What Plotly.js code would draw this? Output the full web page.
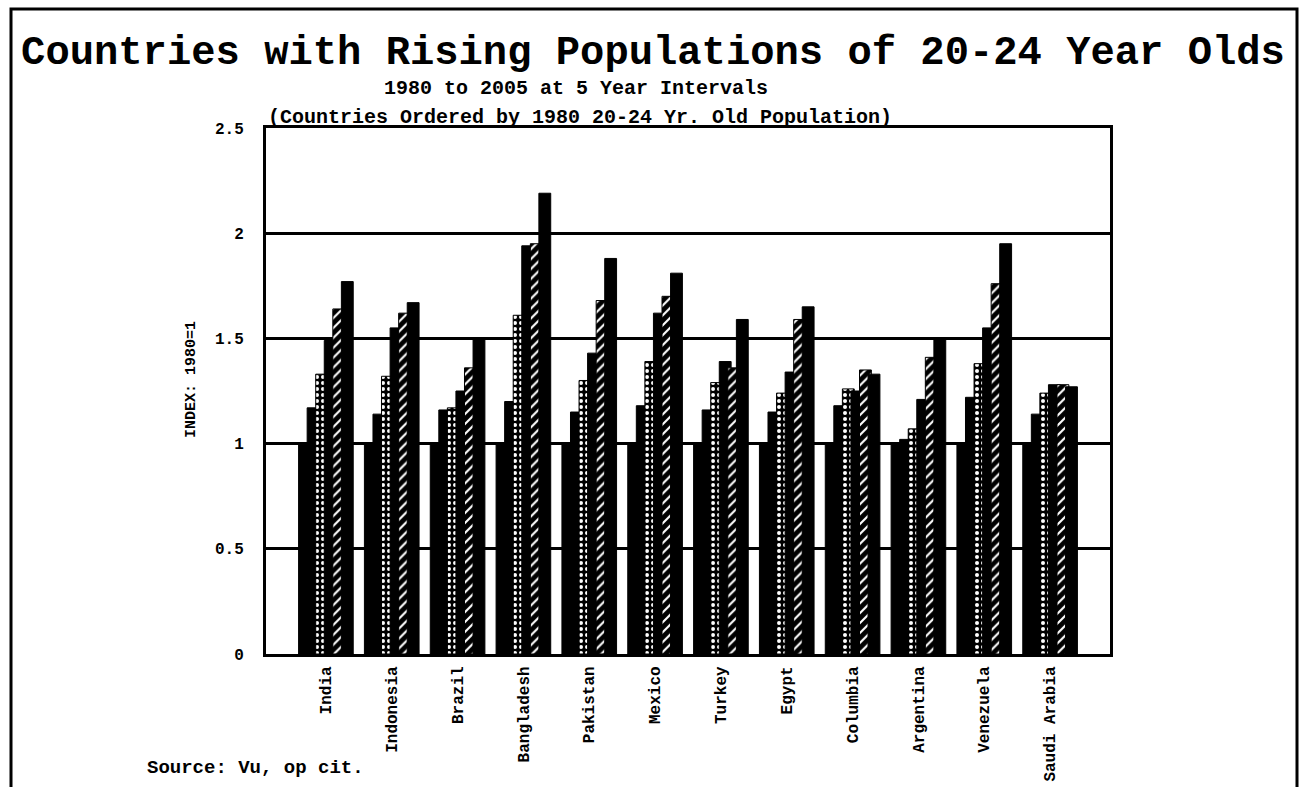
<!DOCTYPE html>
<html>
<head>
<meta charset="utf-8">
<script src="https://cdn.plot.ly/plotly-3.0.1.min.js"></script>
<style>
  html, body { margin: 0; padding: 0; background: #fff; }
  #chart { width: 1304px; height: 787px; }
</style>
</head>
<body>
<div id="chart"></div>
<script>
// ---- Data ----
var countries = ['India', 'Indonesia', 'Brazil', 'Bangladesh', 'Pakistan', 'Mexico',
                 'Turkey', 'Egypt', 'Columbia', 'Argentina', 'Venezuela', 'Saudi Arabia'];
var years = ['1980', '1985', '1990', '1995', '2000', '2005'];

var idx1980 = [1.00, 1.00, 1.00, 1.00, 1.00, 1.00, 1.00, 1.00, 1.00, 1.00, 1.00, 1.00];
var idx1985 = [1.17, 1.14, 1.16, 1.20, 1.15, 1.18, 1.16, 1.15, 1.18, 1.02, 1.22, 1.14];
var idx1990 = [1.33, 1.32, 1.17, 1.61, 1.30, 1.39, 1.29, 1.24, 1.26, 1.07, 1.38, 1.24];
var idx1995 = [1.49, 1.55, 1.25, 1.94, 1.43, 1.62, 1.39, 1.34, 1.25, 1.21, 1.55, 1.28];
var idx2000 = [1.64, 1.62, 1.36, 1.95, 1.68, 1.70, 1.36, 1.59, 1.35, 1.41, 1.76, 1.28];
var idx2005 = [1.77, 1.67, 1.50, 2.19, 1.88, 1.81, 1.59, 1.65, 1.33, 1.50, 1.95, 1.27];

var series = [idx1980, idx1985, idx1990, idx1995, idx2000, idx2005];

// ---- Styling ----
var MONO = 'Liberation Mono, Courier New, DejaVu Sans Mono, monospace';
var patterns = [
  null,
  null,
  {shape: '.', fgcolor: '#ffffff', bgcolor: '#000000', fillmode: 'replace', size: 6, solidity: 0.35},
  null,
  {shape: '/', fgcolor: '#ffffff', bgcolor: '#000000', fillmode: 'replace', size: 7, solidity: 0.3},
  null
];
var barWidth = 0.18, barStep = 0.13, firstOffset = -0.415;

var xs = countries.map(function (c, i) { return i; });

var traces = series.map(function (vals, s) {
  var marker = {color: '#000000', line: {color: '#000000', width: 1}};
  if (patterns[s]) marker.pattern = patterns[s];
  return {
    type: 'bar',
    name: years[s],
    x: xs,
    y: vals,
    width: barWidth,
    offset: firstOffset + barStep * s,
    marker: marker,
    hoverinfo: 'skip'
  };
});

// plot area in pixels: x 266..1110, y 128..654
var L = 266, R = 1110, T = 128, B = 654, W = 1304, H = 787;
function px(x) { return (x - L) / (R - L); }
function py(y) { return (B - y) / (B - T); }

var layout = {
  width: W, height: H,
  margin: {l: L, r: W - R, t: T, b: H - B, pad: 0},
  paper_bgcolor: '#ffffff',
  plot_bgcolor: '#ffffff',
  barmode: 'overlay',
  showlegend: false,
  hovermode: false,
  title: {
    text: 'Countries with Rising Populations of 20-24 Year Olds',
    xref: 'paper', x: px(653), xanchor: 'center',
    yref: 'container', y: 1 - 50 / H, yanchor: 'middle',
    font: {family: MONO, size: 40.5, color: '#000000', weight: 'bold'}
  },
  xaxis: {
    type: 'linear',
    range: [-0.91, 11.91],
    tickvals: xs,
    ticktext: countries,
    tickangle: -90,
    ticks: '',
    showgrid: false,
    zeroline: false,
    showline: true,
    mirror: true,
    linecolor: '#000000',
    linewidth: 3,
    ticklabelstandoff: 3,
    tickfont: {family: MONO, size: 16, color: '#000000', weight: 'bold'}
  },
  yaxis: {
    range: [0, 2.5],
    tickvals: [0, 0.5, 1, 1.5, 2, 2.5],
    ticktext: ['0', '0.5', '1', '1.5', '2', '2.5'],
    ticks: '',
    showgrid: true,
    gridcolor: '#000000',
    gridwidth: 3,
    zeroline: false,
    showline: true,
    mirror: true,
    linecolor: '#000000',
    linewidth: 3,
    ticklabelstandoff: 16,
    tickfont: {family: MONO, size: 16, color: '#000000', weight: 'bold'}
  },
  annotations: [
    {
      text: '1980 to 2005 at 5 Year Intervals',
      xref: 'paper', yref: 'paper', x: px(576), y: py(88),
      xanchor: 'center', yanchor: 'middle', showarrow: false,
      font: {family: MONO, size: 20, color: '#000000', weight: 'bold'}
    },
    {
      text: '(Countries Ordered by 1980 20-24 Yr. Old Population)',
      xref: 'paper', yref: 'paper', x: px(580), y: py(117),
      xanchor: 'center', yanchor: 'middle', showarrow: false,
      font: {family: MONO, size: 20, color: '#000000', weight: 'bold'}
    },
    {
      text: 'INDEX: 1980=1',
      xref: 'paper', yref: 'paper', x: px(191), y: py(380),
      xanchor: 'center', yanchor: 'middle', showarrow: false, textangle: -90,
      font: {family: MONO, size: 15, color: '#000000', weight: 'bold'}
    },
    {
      text: 'Source: Vu, op cit.',
      xref: 'paper', yref: 'paper', x: px(145), y: py(768),
      xanchor: 'left', yanchor: 'middle', showarrow: false,
      font: {family: MONO, size: 19, color: '#000000', weight: 'bold'}
    }
  ],
  shapes: [
    {
      type: 'rect', xref: 'paper', yref: 'paper',
      x0: px(11), x1: px(1297), y0: py(800), y1: py(9),
      line: {color: '#000000', width: 3}, fillcolor: 'rgba(0,0,0,0)', layer: 'below'
    }
  ]
};

Plotly.newPlot('chart', traces, layout, {staticPlot: true, displayModeBar: false});
</script>
</body>
</html>
